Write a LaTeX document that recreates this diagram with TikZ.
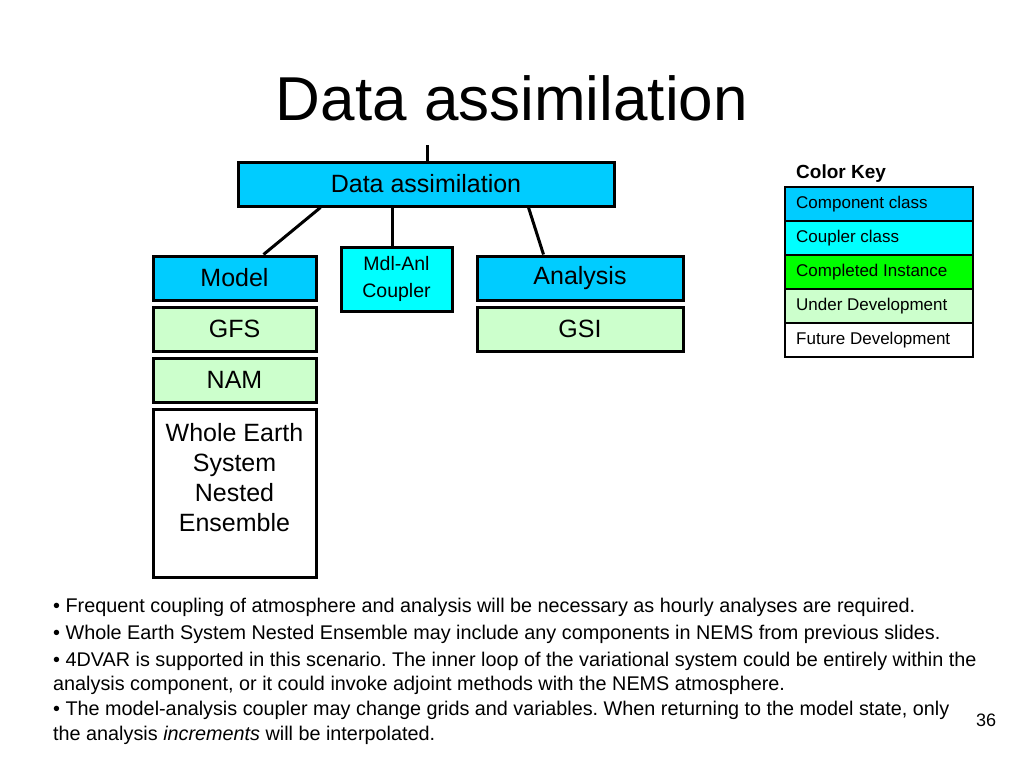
\documentclass[tikz,border=0pt]{standalone}
\usepackage{fontspec}
\setmainfont{Liberation Sans}
\frenchspacing
\definecolor{compc}{HTML}{00CCFF}
\definecolor{coupc}{HTML}{00FFFF}
\definecolor{donec}{HTML}{00FF00}
\definecolor{devc}{HTML}{CCFFCC}
\begin{document}
\begin{tikzpicture}[x=1pt,y=-1pt,
  box/.style={draw=black,line width=3pt,inner sep=0pt,minimum height=44pt,
    font=\fontsize{25}{30}\selectfont,align=center},
  keyrow/.style={draw=black,line width=2pt,inner sep=0pt,minimum width=188pt,minimum height=34pt},
  keytxt/.style={anchor=west,inner sep=0pt,font=\fontsize{17}{20}\selectfont},
  conn/.style={line width=3pt},
  bullet/.style={anchor=base west,inner sep=0pt,font=\fontsize{19.8}{24}\selectfont}]
\useasboundingbox[fill=white] (0,0) rectangle (1024,768);
% title
\node[anchor=base,inner sep=0pt,font=\fontsize{62}{70}\selectfont] (title) at (512,120) {Data assimilation};
% boxes
\node[box,fill=compc,minimum width=376pt] (da) at (426,184) {Data assimilation};
\node[box,fill=compc,minimum width=163pt] (model) at (234.5,278) {Model};
\node[box,fill=devc,minimum width=163pt] (gfs) at (234.5,329) {GFS};
\node[box,fill=devc,minimum width=163pt] (nam) at (234.5,380) {NAM};
\node[box,fill=white,minimum width=163pt,minimum height=168pt] (wes) at (234.5,493) {};
\node[anchor=north,inner sep=0pt,align=center,font=\fontsize{25}{30}\selectfont] (westxt) at (234.5,423) {Whole Earth\\System\\Nested\\Ensemble};
\node[box,fill=coupc,minimum width=111pt,minimum height=64pt,font=\fontsize{19.5}{27}\selectfont] (coupler) at (396.5,279) {Mdl-Anl\\Coupler};
\node[box,fill=compc,minimum width=206pt] (analysis) at (580,278) {Analysis};
\node[box,fill=devc,minimum width=206pt] (gsi) at (580,329) {GSI};
% connectors
\coordinate (top) at (427,145);
\draw[conn] (top) -- (da.north -| top);
\draw[conn] ([xshift=84pt]da.south west) -- ([xshift=112pt]model.north west);
\draw[conn] (da.south -| 392,0) -- (coupler.north -| 392,0);
\draw[conn] ([xshift=292pt]da.south west) -- ([xshift=68pt]analysis.north west);
% color key
\node[anchor=base west,inner sep=0pt,font=\bfseries\fontsize{19}{22}\selectfont] (keytitle) at (796,178) {Color Key};
\node[keyrow,fill=compc] (k1) at (879,204) {};
\node[keyrow,fill=coupc] (k2) at (879,238) {};
\node[keyrow,fill=donec] (k3) at (879,272) {};
\node[keyrow,fill=devc] (k4) at (879,306) {};
\node[keyrow,fill=white] (k5) at (879,340) {};
\node[keytxt] (t1) at (796,204) {Component class};
\node[keytxt] (t2) at (796,238) {Coupler class};
\node[keytxt] (t3) at (796,272) {Completed Instance};
\node[keytxt] (t4) at (796,306) {Under Development};
\node[keytxt] (t5) at (796,340) {Future Development};
% bullets
\node[bullet] (b1) at (53,612) {• Frequent coupling of atmosphere and analysis will be necessary as hourly analyses are required.};
\node[bullet] (b2) at (53,639) {• Whole Earth System Nested Ensemble may include any components in NEMS from previous slides.};
\node[bullet] (b3) at (53,666) {• 4DVAR is supported in this scenario. The inner loop of the variational system could be entirely within the};
\node[bullet] (b3b) at (53,690) {analysis component, or it could invoke adjoint methods with the NEMS atmosphere.};
\node[bullet] (b4) at (53,715) {• The model-analysis coupler may change grids and variables. When returning to the model state, only};
\node[bullet] (b4b) at (53,740) {the analysis \textit{increments} will be interpolated.};
\node[anchor=base,inner sep=0pt,font=\fontsize{18}{22}\selectfont] (page) at (986,726) {36};
\end{tikzpicture}
\end{document}
